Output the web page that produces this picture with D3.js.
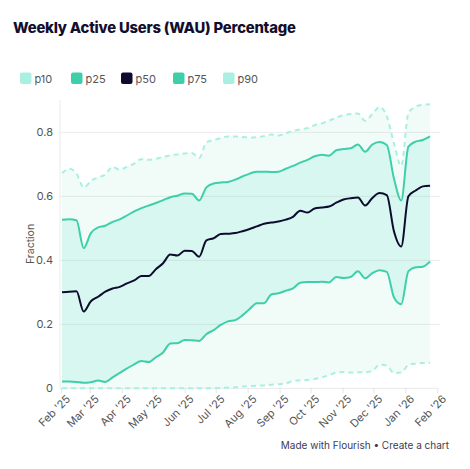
<!DOCTYPE html>
<html><head><meta charset="utf-8">
<script src="https://cdn.jsdelivr.net/npm/d3@7"></script>
<style>
html,body{margin:0;padding:0;background:#fff;}
svg{display:block;font-family:Inter,"Noto Sans",sans-serif;}
</style></head>
<body>
<svg id="chart" width="470" height="469"></svg>
<script>
// ---- data ----
const weeks = d3.range(52);
const dates = weeks.map(k => d3.timeDay.offset(new Date(2025, 1, 2), 7 * k)); // weekly samples from 2 Feb 2025
const seriesNames = ["p10", "p25", "p50", "p75", "p90"];
const p10 = [0,0,0,0,0,0,0,0,0,0,0,0,0,0,0,0,0,0,0,0,0,0,0.001,0.002,0.003,0.006,0.007,0.008,0.009,0.011,0.013,0.015,0.023,0.025,0.026,0.029,0.034,0.041,0.049,0.051,0.049,0.050,0.050,0.054,0.074,0.071,0.048,0.049,0.073,0.077,0.079,0.080];
const p25 = [0.021,0.021,0.020,0.017,0.019,0.024,0.020,0.034,0.048,0.062,0.075,0.085,0.082,0.097,0.112,0.140,0.141,0.151,0.150,0.148,0.169,0.182,0.198,0.209,0.213,0.228,0.248,0.266,0.266,0.293,0.297,0.305,0.312,0.330,0.332,0.332,0.333,0.331,0.348,0.345,0.348,0.366,0.344,0.360,0.369,0.364,0.284,0.263,0.366,0.378,0.380,0.396];
const p50 = [0.300,0.302,0.303,0.240,0.272,0.286,0.302,0.312,0.317,0.328,0.337,0.351,0.351,0.372,0.391,0.418,0.415,0.430,0.429,0.411,0.462,0.469,0.482,0.483,0.485,0.491,0.498,0.506,0.514,0.518,0.521,0.527,0.536,0.555,0.549,0.562,0.565,0.568,0.580,0.590,0.594,0.596,0.571,0.595,0.610,0.604,0.490,0.443,0.600,0.618,0.631,0.633];
const p75 = [0.527,0.528,0.525,0.438,0.485,0.503,0.508,0.520,0.528,0.540,0.553,0.563,0.571,0.579,0.588,0.597,0.602,0.609,0.608,0.587,0.628,0.640,0.643,0.645,0.652,0.662,0.671,0.677,0.677,0.676,0.677,0.686,0.695,0.705,0.714,0.725,0.730,0.727,0.744,0.748,0.750,0.762,0.739,0.762,0.770,0.760,0.655,0.587,0.755,0.771,0.776,0.787];
const p90 = [0.672,0.686,0.672,0.627,0.648,0.659,0.668,0.692,0.683,0.692,0.702,0.716,0.714,0.717,0.723,0.728,0.731,0.734,0.735,0.720,0.768,0.776,0.782,0.787,0.787,0.785,0.784,0.785,0.788,0.793,0.790,0.797,0.804,0.809,0.813,0.822,0.828,0.836,0.846,0.853,0.857,0.859,0.836,0.857,0.879,0.850,0.765,0.695,0.860,0.880,0.886,0.888];
const yTicks = [0, 0.2, 0.4, 0.6, 0.8];
const title = "Weekly Active Users (WAU) Percentage";
const yLabel = "Fraction";

// ---- layout ----
const svg = d3.select("#chart");
const colLight = "#a9efe2", colMid = "#3ecfaa", colDark = "#0e0b2e";
const seriesColors = [colLight, colMid, colDark, colMid, colLight];

const x = d3.scaleTime().domain([new Date(2025,1,1), new Date(2026,1,1)]).range([61, 437.3]);
const y = d3.scaleLinear().domain([0, 0.9]).range([388.3, 100.3]);

const rows = dates.map((d,i) => ({d, p10:p10[i], p25:p25[i], p50:p50[i], p75:p75[i], p90:p90[i]}));

// title
svg.append("text").attr("x", 13).attr("y", 33).attr("font-size", 14.8).attr("font-weight", 800)
  .attr("fill", "#110e2e").attr("letter-spacing", -0.2).text(title);

// legend
const legX = [20, 71, 121, 173, 223];
seriesNames.forEach((n,i) => {
  svg.append("rect").attr("x", legX[i]).attr("y", 72.5).attr("width", 11.5).attr("height", 11.5)
    .attr("rx", 2).attr("fill", seriesColors[i]);
  svg.append("text").attr("x", legX[i] + 14.5).attr("y", 82.5).attr("font-size", 11)
    .attr("fill", "#555").text(n);
});

// bands
const area = (lo, hi) => d3.area().x(r => x(r.d)).y0(r => y(r[lo])).y1(r => y(r[hi])).curve(d3.curveMonotoneX);
svg.append("path").datum(rows).attr("d", area("p10","p90")).attr("fill", "#f1fcf9");
svg.append("path").datum(rows).attr("d", area("p25","p75")).attr("fill", "#d8f7f0");

// grid
svg.selectAll("line.grid").data(yTicks.slice(1)).enter().append("line").attr("class", "grid")
  .attr("x1", 60).attr("x2", 440).attr("y1", d => y(d)).attr("y2", d => y(d))
  .attr("stroke", "#000").attr("stroke-opacity", 0.06).attr("stroke-width", 1.2);

// y axis
const yAxis = d3.axisLeft(y).tickValues(yTicks).tickSize(0).tickPadding(7)
  .tickFormat(d => d === 0 ? "0" : d3.format(".1f")(d));
const ya = svg.append("g").attr("transform", "translate(60,0)").call(yAxis);
ya.select(".domain").remove();
ya.selectAll("text").attr("font-size", 11).attr("fill", "#555").attr("font-family", "Inter,'Noto Sans',sans-serif");
svg.append("line").attr("x1", 60).attr("x2", 60).attr("y1", 100).attr("y2", 388.3)
  .attr("stroke", "#000").attr("stroke-opacity", 0.07).attr("stroke-width", 1.2);

// x axis
const monthTicks = d3.timeMonth.range(new Date(2025,1,1), new Date(2026,1,2));
const xAxis = d3.axisBottom(x).tickValues(monthTicks).tickSize(5).tickPadding(4)
  .tickFormat(d3.timeFormat("%b '%y"));
const xa = svg.append("g").attr("transform", "translate(0,388.3)").call(xAxis);
xa.select(".domain").attr("stroke", "#000").attr("stroke-opacity", 0.07).attr("stroke-width", 1.2).attr("d", "M60,0H437.3");
xa.selectAll(".tick line").attr("stroke", "#000").attr("stroke-opacity", 0.1);
xa.selectAll("text").attr("font-size", 11).attr("fill", "#555").attr("font-family", "Inter,'Noto Sans',sans-serif")
  .attr("text-anchor", "end").attr("dy", 0).attr("transform", "translate(3,5) rotate(-45)");

// y label
svg.append("text").attr("transform", "translate(34,244) rotate(-90)").attr("text-anchor", "middle")
  .attr("font-size", 10.5).attr("fill", "#555").text(yLabel);

// lines
const line = key => d3.line().x(r => x(r.d)).y(r => y(r[key])).curve(d3.curveMonotoneX);
[["p10", colLight, true], ["p90", colLight, true], ["p25", colMid, false], ["p75", colMid, false], ["p50", colDark, false]]
  .forEach(([k, c, dashed]) => {
    svg.append("path").datum(rows).attr("d", line(k)).attr("fill", "none").attr("stroke", c)
      .attr("stroke-width", 2).attr("stroke-linejoin", "round")
      .attr("stroke-dasharray", dashed ? "5,4" : null);
  });

// footer
svg.append("text").attr("x", 449).attr("y", 449).attr("text-anchor", "end").attr("font-size", 10)
  .attr("fill", "#3d3b57").text("Made with Flourish • Create a chart");
</script>
</body></html>
